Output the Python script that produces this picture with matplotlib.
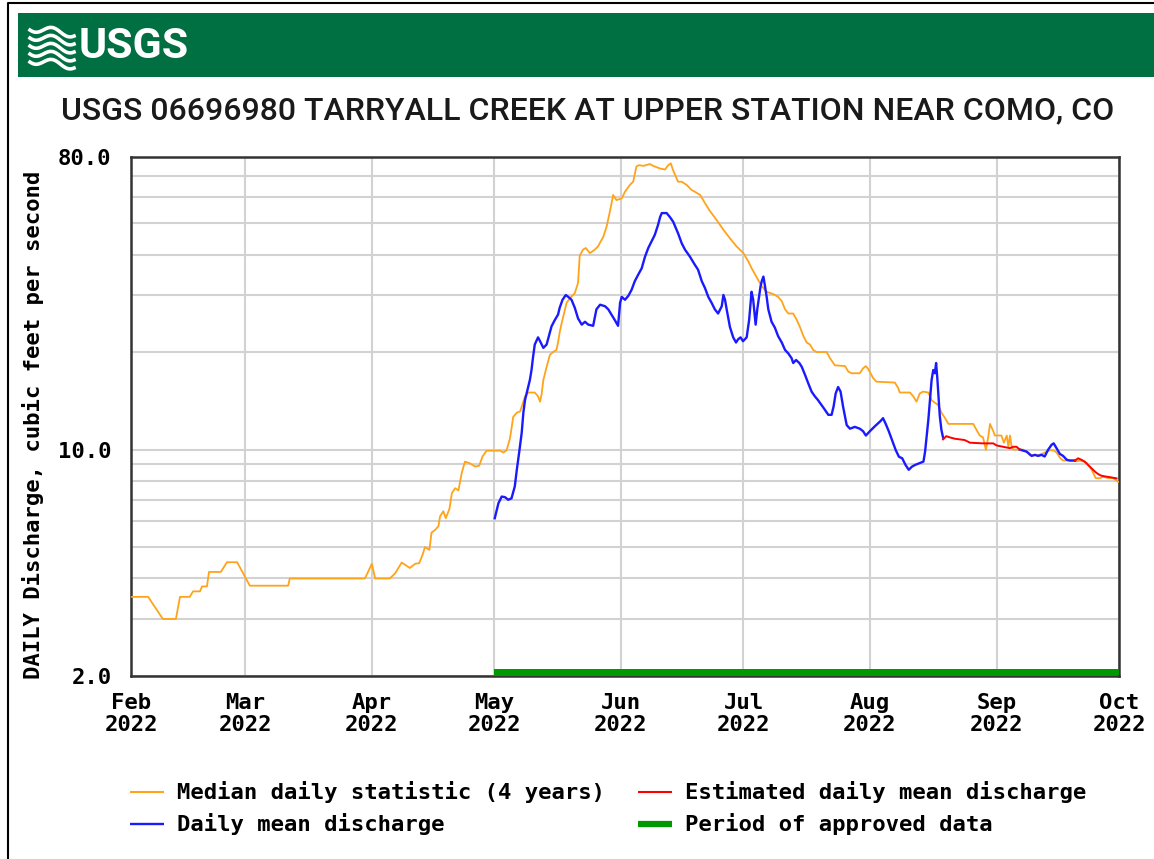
import numpy as np
import matplotlib
matplotlib.use('Agg')
import matplotlib.pyplot as plt
import matplotlib.dates as mdates
from matplotlib.lines import Line2D
from matplotlib.patches import Rectangle
from matplotlib.ticker import FixedLocator, NullFormatter

# ---------------- data ----------------
START = '2022-02-01'
TITLE = 'USGS 06696980 TARRYALL CREEK AT UPPER STATION NEAR COMO, CO'
Y_LABEL = 'DAILY Discharge, cubic feet per second'

# days since Feb 1 2022 / discharge (cfs)
median_days = [0.2, 4.2, 7.8, 11.0, 12.0, 14.4, 15.2, 16.9, 17.4, 18.6, 19.1, 22.0, 23.5, 26.0, 29.1, 38.5, 38.9,
               57.3, 59.0, 59.8, 63.4, 64.7, 66.3, 68.3, 69.6, 70.6, 71.4, 72.0, 73.1, 73.6, 74.5, 75.3, 75.7, 76.5,
               77.1, 78.0, 78.6, 79.4, 80.2, 81.0, 81.8, 83.0, 84.3, 85.3, 86.1, 87.1, 90.4, 91.2, 92.0, 92.8, 93.2,
               93.6, 94.5, 95.3, 96.1, 96.5, 97.3, 98.9, 99.7, 100.2, 100.6, 101.0, 101.8, 102.6, 103.4, 104.2,
               104.6, 105.0, 105.4, 106.2, 106.7, 107.5, 108.7, 109.5, 109.9, 110.7, 111.4, 112.4, 113.6, 114.4,
               115.7, 116.5, 117.3, 118.1, 118.9, 120.2, 121.0, 122.2, 123.0, 123.8, 124.5, 125.5, 127.1, 127.9,
               129.6, 130.8, 131.6, 132.2, 132.8, 134.0, 134.9, 136.1, 137.3, 138.1, 139.4, 140.6, 141.8, 143.4,
               145.1, 146.7, 148.3, 150.0, 151.2, 152.0, 153.6, 154.5, 155.7, 157.3, 158.5, 159.4, 160.2, 161.0,
               162.2, 163.1, 163.9, 164.7, 165.5, 166.3, 167.1, 167.9, 170.4, 171.2, 172.4, 174.9, 175.7, 176.5,
               178.5, 179.3, 180.0, 180.6, 181.8, 182.6, 187.1, 187.9, 188.3, 190.8, 191.6, 192.4, 193.2, 194.0,
               195.3, 196.1, 196.9, 197.7, 198.5, 199.4, 200.2, 206.3, 207.1, 207.9, 208.7, 209.4, 210.0, 210.4,
               211.2, 211.6, 213.2, 213.8, 214.5, 214.9, 215.3, 215.7, 216.1, 218.5, 219.4, 220.2, 222.2, 223.5,
               224.3, 225.1, 225.9, 226.7, 227.6, 228.3, 230.8, 231.6, 232.4, 233.2, 234.1, 235.3, 236.3, 237.3,
               238.1, 239.4, 240.6, 241.8]
median_cfs = [3.51, 3.51, 3.0, 3.0, 3.51, 3.51, 3.65, 3.65, 3.78, 3.78, 4.19, 4.19, 4.49, 4.49, 3.8, 3.8, 4.0,
              4.0, 4.44, 4.0, 4.0, 4.15, 4.48, 4.31, 4.44, 4.46, 4.73, 5.0, 4.9, 5.54, 5.65, 5.8, 6.22, 6.45,
              6.14, 6.56, 7.34, 7.6, 7.48, 8.46, 9.18, 9.07, 8.86, 8.92, 9.52, 9.92, 9.92, 9.79, 9.95, 10.8, 11.6,
              12.6, 13.0, 13.1, 14.05, 14.6, 15.0, 15.0, 14.6, 14.05, 14.9, 16.4, 18.0, 19.6, 20.0, 20.3,
              21.4, 23.0, 24.3, 26.7, 28.4, 29.3, 30.4, 32.7, 39.6, 41.4, 41.9, 40.4, 41.4, 42.4,
              45.4, 48.8, 54.3, 61.1, 58.9, 59.6, 62.5, 65.6, 67.1, 74.8, 75.5, 75.1, 76.1, 75.1,
              73.7, 73.2, 75.5, 76.5, 72.7, 67.1, 67.1, 65.6, 63.3, 62.5, 61.1, 57.6, 54.5, 51.2,
              47.7, 44.9, 42.4, 40.4, 38.1, 36.3, 33.4, 31.9, 30.7, 30.2, 29.6, 28.7, 27.1, 26.3,
              26.3, 25.1, 23.8, 22.4, 21.4, 21.1, 20.3, 20.0, 20.0, 19.15, 18.2, 18.1, 17.4, 17.2,
              17.2, 17.8, 18.1, 17.7, 16.6, 16.2, 16.1, 15.5, 15.0, 15.0, 14.6, 14.05, 14.9, 15.1,
              15.0, 14.2, 13.95, 13.74, 13.0, 12.5, 12.0, 12.0, 11.5, 11.05, 10.9, 9.98, 11.0, 12.0,
              11.4, 11.05, 11.05, 10.5, 11.05, 10.2, 11.05, 10.2, 10.0, 10.0, 9.85, 9.6, 9.6, 9.74,
              9.85, 9.95, 9.95, 9.8, 9.41, 9.25, 9.25, 9.2, 9.25, 9.2, 9.1, 8.66, 8.16, 8.16,
              8.25, 8.16, 8.16, 7.95]

daily_days = [89.1, 90.0, 90.4, 90.8, 91.6, 92.4, 93.2, 94.0, 94.5, 95.1, 95.7, 96.1, 96.5, 96.9, 97.7, 98.1,
              98.5, 98.9, 99.7, 100.2, 101.0, 101.8, 102.6, 103.0, 103.8, 104.6, 105.0, 105.7, 106.5, 107.1,
              107.9, 108.7, 109.5, 110.4, 111.2, 112.0, 113.2, 114.0, 114.9, 116.1, 116.9, 117.7, 118.5, 119.3,
              119.8, 120.2, 121.0, 121.8, 122.6, 123.4, 124.2, 125.1, 125.9, 126.7, 127.5, 128.3, 129.1, 129.6,
              130.0, 131.2, 132.0, 132.8, 134.0, 134.9, 135.7, 136.9, 138.1, 138.9, 139.8, 140.6, 141.4, 142.2,
              143.0, 143.8, 144.7, 145.1, 145.5, 145.9, 146.7, 147.5, 148.2, 148.7, 149.3, 149.9, 150.8, 151.4,
              152.0, 152.4, 153.0, 153.4, 153.9, 154.2, 154.5, 154.9, 155.3, 155.7, 156.1, 156.9, 157.7, 158.5,
              159.4, 160.2, 161.0, 161.8, 162.2, 162.9, 163.7, 164.3, 165.1, 165.9, 166.7, 167.5, 168.3, 169.1,
              169.9, 170.8, 171.6, 172.1, 172.6, 173.2, 173.8, 174.4, 175.3, 176.1, 177.3, 178.5, 179.3, 180.0,
              181.0, 182.2, 183.6, 184.2, 184.8, 185.6, 186.4, 187.3, 188.1, 188.9, 189.7, 190.5, 191.3, 192.1,
              193.3, 194.1, 194.5, 194.9, 195.3, 195.7, 196.1, 196.5, 196.9, 197.2, 197.5, 197.8, 198.1, 198.5,
              198.9]
daily_cfs = [6.14, 6.83, 6.99, 7.16, 7.13, 7.0, 7.07, 7.69, 8.66, 9.85, 11.27, 12.98, 14.2, 14.9, 16.4, 17.6,
             19.4, 21.1, 22.2, 21.6, 20.6, 21.1, 23.0, 24.0, 25.1, 26.1, 27.4, 29.0, 30.0, 29.6,
             29.0, 27.4, 25.4, 24.3, 24.8, 24.3, 24.1, 27.1, 28.0, 27.7, 27.1, 26.1, 25.1, 24.1,
             28.4, 29.6, 29.0, 29.8, 31.1, 33.1, 34.6, 36.3, 39.4, 41.9, 43.9, 46.0, 49.4, 52.2,
             53.7, 53.7, 52.2, 50.5, 46.5, 43.3, 41.4, 39.4, 37.2, 35.9, 33.1, 31.5, 29.6, 28.4,
             27.1, 26.3, 27.7, 30.0, 29.0, 27.1, 23.9, 22.2, 21.4, 21.9, 22.2, 21.6, 22.2, 25.1,
             30.7, 29.0, 24.3, 27.1, 30.0, 31.9, 33.1, 34.2, 31.9, 29.6, 27.1, 24.8, 23.8, 22.4,
             21.4, 20.3, 19.8, 19.15, 18.5, 18.9, 18.5, 18.0, 17.0, 16.0, 15.1, 14.6, 14.2, 13.75,
             13.3, 12.8, 12.8, 13.6, 14.9, 15.6, 15.1, 13.6, 11.9, 11.6, 11.75, 11.6, 11.4, 11.05,
             11.4, 11.8, 12.25, 12.5, 12.05, 11.4, 10.7, 9.97, 9.5, 9.4, 8.97, 8.66, 8.86, 8.97,
             9.1, 9.18, 9.85, 11.0, 12.35, 14.2, 16.4, 17.6, 17.2, 18.5, 16.6, 14.6, 12.7, 11.5,
             10.9]

daily2_days = [217.7, 219.4, 220.6, 221.4, 222.2, 223.0, 223.8, 224.6, 225.5, 226.0, 226.7, 227.5, 228.3,
               229.2, 230.0, 231.2]
daily2_cfs = [10.0, 9.85, 9.56, 9.63, 9.56, 9.63, 9.52, 9.97, 10.35, 10.45, 10.1, 9.7, 9.56, 9.3, 9.25, 9.25]

est1_days = [198.9, 199.7, 200.6, 201.8, 203.0, 204.2, 205.5, 208.7, 211.2, 212.0, 213.6, 215.3, 216.1, 216.9, 217.7]
est1_cfs = [10.75, 11.0, 10.9, 10.8, 10.75, 10.7, 10.5, 10.45, 10.45, 10.3, 10.2, 10.1, 10.2, 10.2, 10.0]

est2_days = [231.2, 232.0, 232.8, 233.6, 234.4, 235.3, 236.1, 236.9, 237.7, 238.9, 240.2, 241.4]
est2_cfs = [9.25, 9.4, 9.3, 9.18, 8.97, 8.75, 8.55, 8.4, 8.3, 8.25, 8.2, 8.15]

approved_period = ['2022-05-01', '2022-10-01']

month_starts = ['2022-02-01', '2022-03-01', '2022-04-01', '2022-05-01', '2022-06-01',
                '2022-07-01', '2022-08-01', '2022-09-01', '2022-10-01']
month_labels = ['Feb\n2022', 'Mar\n2022', 'Apr\n2022', 'May\n2022', 'Jun\n2022',
                'Jul\n2022', 'Aug\n2022', 'Sep\n2022', 'Oct\n2022']
y_labeled = [2.0, 10.0, 80.0]
y_grid = [3, 4, 5, 6, 7, 8, 9, 20, 30, 40, 50, 60, 70]

legend_items = ['Median daily statistic (4 years)', 'Daily mean discharge',
                'Estimated daily mean discharge', 'Period of approved data']

# ---------------- style ----------------
W, H = 1154, 859
ORANGE = '#ffa31a'
BLUE = '#1a1aff'
RED = '#ff0000'
GREEN = '#009a00'
BANNER = '#006f41'
MONO = dict(family='DejaVu Sans Mono', weight='bold', size=16)

fig = plt.figure(figsize=(W / 100, H / 100), dpi=100)
fig.patch.set_facecolor('white')
renderer = fig.canvas.get_renderer()


def fx(px):
    return px / W


def fy(py):
    return 1 - py / H


def fit_width(txt, target_px):
    bb = txt.get_window_extent(renderer)
    txt.set_fontsize(txt.get_fontsize() * target_px / bb.width)


# outer border (left and top edges)
fig.add_artist(Line2D([fx(8), fx(8), fx(1154)], [fy(859), fy(3), fy(3)],
                      transform=fig.transFigure, color='black', lw=1.5))
# banner
fig.add_artist(Rectangle((fx(18), fy(77)), 1 - fx(18), fy(13) - fy(77),
                         transform=fig.transFigure, facecolor=BANNER, edgecolor='none'))
# logo waves
t = np.linspace(0, 1, 60)
for k in range(5):
    xs = 30 + 44 * t
    ys = 28 + k * 8 + 3.5 * np.sin(2 * np.pi * (t * 1.3 + 0.1)) + 6 * t
    fig.add_artist(Line2D(fx(xs), fy(ys), transform=fig.transFigure, color='white', lw=2.6))
logo = fig.text(fx(79), fy(46), 'USGS', ha='left', va='center', color='white',
                family='Roboto', weight='bold', fontsize=36)
fit_width(logo, 110)

# title
title = fig.text(fx(588), fy(111), TITLE, ha='center', va='center', color='#1a1a1a',
                 family='Roboto', weight='medium', fontsize=24)
fit_width(title, 1053)

# axes
ax = fig.add_axes([fx(131), fy(676), fx(1119) - fx(131), fy(157) - fy(676)])
base = mdates.date2num(np.datetime64(START))


def xd(days):
    return base + np.asarray(days, dtype=float)


ax.set_yscale('log')
ax.set_ylim(2, 80)
ax.set_xlim(mdates.date2num(np.datetime64(month_starts[0])), mdates.date2num(np.datetime64(month_starts[-1])))

ax.plot(xd(median_days), median_cfs, color=ORANGE, lw=1.3, zorder=3)
ax.plot(xd(daily_days), daily_cfs, color=BLUE, lw=1.7, zorder=4)
ax.plot(xd(daily2_days), daily2_cfs, color=BLUE, lw=1.7, zorder=4)
ax.plot(xd(est1_days), est1_cfs, color=RED, lw=1.4, zorder=4)
ax.plot(xd(est2_days), est2_cfs, color=RED, lw=1.4, zorder=4)

a0 = mdates.date2num(np.datetime64(approved_period[0]))
a1 = mdates.date2num(np.datetime64(approved_period[1]))
ax.add_patch(Rectangle((a0, 0.002), a1 - a0, 0.011, transform=ax.get_xaxis_transform(),
                       facecolor=GREEN, edgecolor='none', zorder=5, clip_on=False))

ax.set_yticks(y_labeled)
ax.set_yticklabels(['%.1f' % v for v in y_labeled])
ax.yaxis.set_minor_locator(FixedLocator(y_grid))
ax.yaxis.set_minor_formatter(NullFormatter())
ax.set_xticks([mdates.date2num(np.datetime64(m)) for m in month_starts])
ax.set_xticklabels(month_labels, linespacing=1.15)
ax.xaxis.set_minor_locator(FixedLocator([]))

for lab in ax.get_xticklabels() + ax.get_yticklabels():
    lab.set_fontfamily(MONO['family'])
    lab.set_fontweight(MONO['weight'])
    lab.set_fontsize(MONO['size'])
ax.tick_params(axis='y', which='both', length=0, pad=14)
ax.tick_params(axis='x', which='both', length=0, pad=12)

ax.grid(True, which='major', axis='both', color='#d2d2d2', lw=1.5, zorder=0)
ax.grid(True, which='minor', axis='y', color='#d2d2d2', lw=1.5, zorder=0)
ax.set_axisbelow(True)
for s in ax.spines.values():
    s.set_color('#333333')
    s.set_linewidth(1.8)

fig.text(fx(33), fy(425), Y_LABEL, rotation=90, ha='center', va='center', **MONO)

# legend
leg_pos = [(130, 792), (130, 824), (638, 792), (638, 824)]
leg_style = [dict(color=ORANGE, lw=1.5), dict(color=BLUE, lw=1.7),
             dict(color=RED, lw=1.5), dict(color=GREEN, lw=4.5)]
for (lx, ly), st, txt in zip(leg_pos, leg_style, legend_items):
    fig.add_artist(Line2D([fx(lx), fx(lx + 34)], [fy(ly), fy(ly)], transform=fig.transFigure,
                          solid_capstyle='butt', **st))
    fig.text(fx(lx + 47), fy(ly), txt, ha='left', va='center', **MONO)

fig.savefig('out.png', dpi=100, facecolor='white')
